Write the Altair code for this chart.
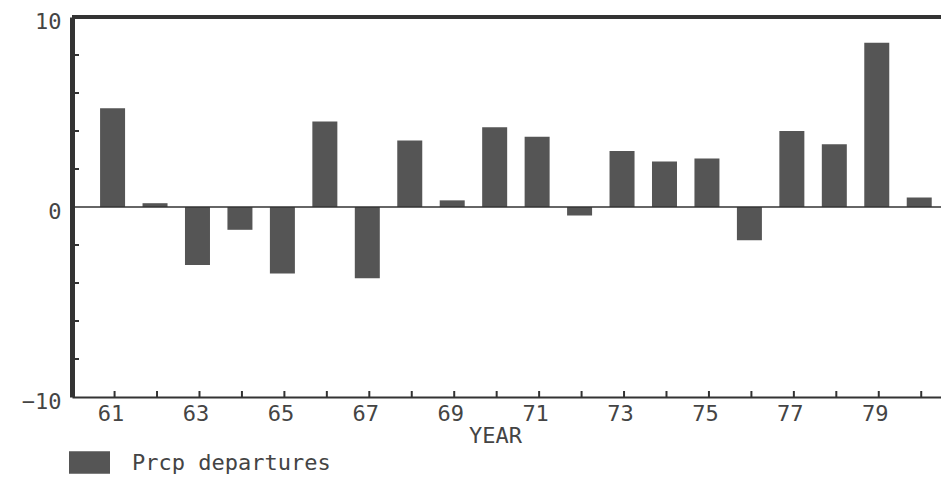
import altair as alt
import pandas as pd

# ---- data ----
years = list(range(61, 81))
departures = [5.2, 0.2, -3.05, -1.2, -3.5, 4.5, -3.75, 3.5, 0.35, 4.2,
              3.7, -0.45, 2.95, 2.4, 2.55, -1.75, 4.0, 3.3, 8.65, 0.5]
series_name = "Prcp departures"
x_label_years = [61, 63, 65, 67, 69, 71, 73, 75, 77, 79]
x_tick_years = list(range(61, 81))
y_label_values = [-10, 0, 10]
y_minor_ticks = [-8, -6, -4, -2, 2, 4, 6, 8]

bars_df = pd.DataFrame({"year": years, "dep": departures, "series": series_name})
ytick_df = pd.DataFrame({"v": y_minor_ticks})
xtick_df = pd.DataFrame({"year": x_tick_years})

W, H = 869, 380
FONT = "DejaVu Sans Mono"
FS = 22
TXT = "#444444"
INK = "#333333"
BAR = "#555555"

xs = alt.Scale(domain=[60.115, 80.348], nice=False, zero=False)
ys = alt.Scale(domain=[-10, 10], nice=False, zero=False)

x_axis = alt.Axis(values=x_label_years, ticks=False, grid=False, domain=True,
                  domainColor=INK, domainWidth=2, labelFont=FONT, labelFontSize=FS,
                  labelColor=TXT, labelPadding=6, labelOffset=-4, labelFlush=False,
                  format="d",
                  title="YEAR", titleFont=FONT, titleFontSize=FS, titleFontWeight="normal",
                  titleColor=TXT, titleX=423, titleY=38, titleAlign="center",
                  titleBaseline="middle")
y_axis = alt.Axis(values=y_label_values, ticks=False, grid=False, domain=True,
                  domainColor=INK, domainWidth=5, labelFont=FONT, labelFontSize=FS,
                  labelColor=TXT, labelPadding=11, labelOffset=4, labelFlush=False,
                  format="d", title=None)

bars = alt.Chart(bars_df).mark_bar(size=25, xOffset=-2).encode(
    x=alt.X("year:Q", scale=xs, axis=x_axis),
    y=alt.Y("dep:Q", scale=ys, axis=y_axis),
    color=alt.Color("series:N", scale=alt.Scale(range=[BAR]),
                    legend=alt.Legend(orient="none", legendX=-3, legendY=425, title=None,
                                      symbolType="M-1,-0.55H1V0.55H-1Z", symbolSize=1681,
                                      symbolStrokeWidth=0, symbolOpacity=1,
                                      labelFont=FONT, labelFontSize=FS, labelColor=TXT,
                                      labelOffset=22, labelLimit=500, padding=0)),
)

zero_line = alt.Chart(pd.DataFrame({"z": [0]})).mark_rule(color=INK, strokeWidth=1.5).encode(
    y=alt.Y("z:Q", scale=ys), x=alt.value(0), x2=alt.value(W))

top_border = alt.Chart(pd.DataFrame({"z": [10]})).mark_rule(color=INK, strokeWidth=4).encode(
    y=alt.Y("z:Q", scale=ys), x=alt.value(0), x2=alt.value(W))

yticks = alt.Chart(ytick_df).mark_rule(color=INK, strokeWidth=2).encode(
    y=alt.Y("v:Q", scale=ys), x=alt.value(0), x2=alt.value(7))

xticks = alt.Chart(xtick_df).mark_rule(color=INK, strokeWidth=2).encode(
    x=alt.X("year:Q", scale=xs), y=alt.value(H), y2=alt.value(H - 6))

chart = alt.layer(bars, zero_line, top_border, yticks, xticks).properties(
    width=W, height=H, autosize="none",
    padding={"left": 64, "top": 9, "right": 0, "bottom": 80},
    background="white",
).configure_view(stroke=None)

chart.save("out.html", embed_options={"renderer": "svg", "actions": False})
